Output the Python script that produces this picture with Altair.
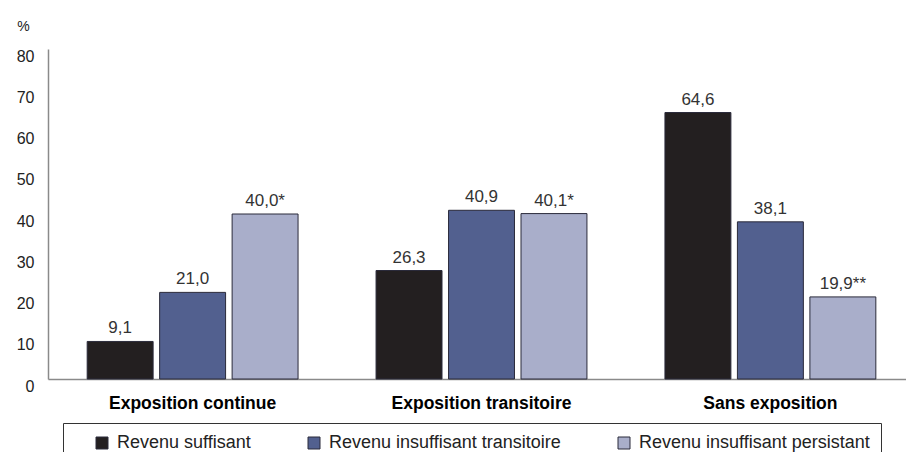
import altair as alt
import pandas as pd

# Chart values
groups = ["Exposition continue", "Exposition transitoire", "Sans exposition"]
series = [
    "Revenu suffisant",
    "Revenu insuffisant transitoire",
    "Revenu insuffisant persistant",
]
suffisant = [9.1, 26.3, 64.6]
insuffisant_transitoire = [21.0, 40.9, 38.1]
insuffisant_persistant = [40.0, 40.1, 19.9]
notes_persistant = ["*", "*", "**"]
colors = ["#231f20", "#52608f", "#a9aeca"]
y_ticks = [0, 10, 20, 30, 40, 50, 60, 70, 80]

rows = []
for name, vals, notes in zip(
    series,
    [suffisant, insuffisant_transitoire, insuffisant_persistant],
    [["", "", ""], ["", "", ""], notes_persistant],
):
    for g, v, n in zip(groups, vals, notes):
        rows.append({
            "groupe": g,
            "revenu": name,
            "pct": v,
            "label": f"{v:.1f}".replace(".", ",") + n,
        })
df = pd.DataFrame(rows)

FONT = "Liberation Sans"

x = alt.X(
    "groupe:N",
    sort=groups,
    title=None,
    scale=alt.Scale(paddingInner=0.27, paddingOuter=0.12, align=0.565),
    axis=alt.Axis(
        labelFontWeight="bold",
        labelFontSize=17.5,
        labelColor="#000000",
        labelPadding=15,
        labelAngle=0,
        ticks=False,
        domainColor="#8a8a8a",
        domainWidth=1.5,
    ),
)
xoff = alt.XOffset(
    "revenu:N", sort=series, scale=alt.Scale(paddingInner=0.09, paddingOuter=0)
)
y = alt.Y(
    "pct:Q",
    scale=alt.Scale(domain=[0, 80], nice=False),
    axis=alt.Axis(
        values=y_ticks,
        grid=False,
        ticks=False,
        labelPadding=14,
        labelOffset=7,
        labelFontSize=16,
        labelColor="#222222",
        domainColor="#8a8a8a",
        domainWidth=1.5,
        title="%",
        titleAngle=0,
        titleAlign="center",
        titleBaseline="middle",
        titleX=-25,
        titleY=-23,
        titleFontSize=14,
        titleFontWeight="normal",
        titleColor="#222222",
    ),
)

bars = alt.Chart(df).mark_bar(stroke="#2a2a3a", strokeWidth=1).encode(
    x=x,
    xOffset=xoff,
    y=y,
    color=alt.Color(
        "revenu:N",
        sort=series,
        scale=alt.Scale(domain=series, range=colors),
        legend=alt.Legend(
            title=None,
            orient="none",
            direction="horizontal",
            legendX=15,
            legendY=374,
            symbolType="square",
            symbolSize=144,
            symbolStrokeColor="#2a2a3a",
            symbolStrokeWidth=1,
            symbolOpacity=1,
            symbolOffset=19,
            labelOffset=6,
            labelFontSize=18,
            labelLimit=400,
            labelColor="#222222",
            columnPadding=35,
            padding=11,
        ),
    ),
)

labels = alt.Chart(df).mark_text(
    baseline="alphabetic", dy=-8, fontSize=17, color="#333333"
).encode(
    x=x,
    xOffset=xoff,
    y=alt.Y("pct:Q"),
    text="label:N",
)

chart = (
    alt.layer(bars, labels)
    .properties(
        width=858,
        height=330,
        autosize=alt.AutoSizeParams(type="none"),
        padding={"left": 48, "top": 49, "right": 0, "bottom": 73},
    )
    .configure(font=FONT)
    .configure_view(stroke=None)
    .configure_legend(strokeColor="#333333", strokeWidth=1)
)

chart.save("out.html", embed_options={"renderer": "svg", "actions": False})
